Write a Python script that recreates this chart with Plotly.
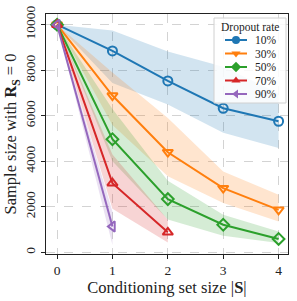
import plotly.graph_objects as go

cond_sizes = [0, 1, 2, 3, 4]
dropout_labels = ["10%", "30%", "50%", "70%", "90%"]

mean_10 = [10000, 8850, 7530, 6330, 5760]
upper_10 = [10000, 9740, 8820, 8150, 6990]
lower_10 = [10000, 7440, 6500, 5260, 4580]

mean_30 = [10000, 6890, 4400, 2820, 1870]
upper_30 = [10000, 7900, 5900, 3550, 2530]
lower_30 = [10000, 5600, 3350, 2170, 1360]

mean_50 = [10000, 4970, 2340, 1215, 590]
upper_50 = [10000, 6300, 3150, 1650, 920]
lower_50 = [10000, 4000, 1450, 730, 410]

mean_70 = [10000, 3040, 880]
upper_70 = [10000, 4300, 1430]
lower_70 = [10000, 1920, 440]

mean_90 = [10000, 1140]
upper_90 = [10000, 1800]
lower_90 = [10000, 320]

y_ticks = [0, 2000, 4000, 6000, 8000, 10000]
y_tick_labels = ["0", "2000", "4000", "6000", "8000", "10000"]

colors = ["#1f77b4", "#ff7f0e", "#2ca02c", "#d62728", "#9467bd"]
fills = ["rgba(31,119,180,0.2)", "rgba(255,127,14,0.2)", "rgba(44,160,44,0.2)",
         "rgba(214,39,40,0.2)", "rgba(148,103,189,0.2)"]
symbols = ["circle", "triangle-down", "diamond", "triangle-up", "triangle-left"]
means = [mean_10, mean_30, mean_50, mean_70, mean_90]
uppers = [upper_10, upper_30, upper_50, upper_70, upper_90]
lowers = [lower_10, lower_30, lower_50, lower_70, lower_90]

FONT = "Liberation Serif, Times New Roman, serif"
TXT = "#222"
fig = go.Figure()

for m, up, lo, fcol in zip(means, uppers, lowers, fills):
    xs = cond_sizes[:len(m)]
    fig.add_trace(go.Scatter(
        x=xs + xs[::-1], y=up + lo[::-1], fill="toself", fillcolor=fcol,
        line=dict(width=0), mode="lines", hoverinfo="skip", showlegend=False))

for m, col, sym in zip(means, colors, symbols):
    xs = cond_sizes[:len(m)]
    fig.add_trace(go.Scatter(
        x=xs, y=m, mode="lines+markers", showlegend=False,
        line=dict(color=col, width=2),
        marker=dict(symbol=sym + "-open", size=9, color=col, line=dict(width=2, color=col))))

# ---- custom legend (pixel-space overlay axes) ----
L_LEFT, L_RIGHT, L_TOP, L_BOTTOM = 46, 288, 14, 254
bx0, bx1, by0, by1 = 214, 286, 18, 103
entry_y = [40, 53.5, 67, 80.5, 94]
fig.add_trace(go.Scatter(x=[bx0, bx1, bx1, bx0, bx0], y=[by0, by0, by1, by1, by0],
                         xaxis="x2", yaxis="y2", mode="lines", fill="toself",
                         fillcolor="rgba(255,255,255,0.85)",
                         line=dict(color="#d0d0d0", width=1),
                         showlegend=False, hoverinfo="skip"))
fig.add_annotation(xref="x2", yref="y2", x=(bx0 + bx1) / 2, y=27,
                   text="Dropout rate", showarrow=False,
                   font=dict(family=FONT, size=11.5, color=TXT))
for ey, col, sym, lab in zip(entry_y, colors, symbols, dropout_labels):
    fig.add_trace(go.Scatter(x=[225, 247], y=[ey, ey], xaxis="x2", yaxis="y2",
                             mode="lines", line=dict(color=col, width=2),
                             showlegend=False, hoverinfo="skip"))
    fig.add_trace(go.Scatter(x=[236], y=[ey], xaxis="x2", yaxis="y2",
                             mode="markers", marker=dict(symbol=sym, size=8, color=col),
                             showlegend=False, hoverinfo="skip"))
    fig.add_annotation(xref="x2", yref="y2", x=253, y=ey, text=lab, showarrow=False,
                       xanchor="left", font=dict(family=FONT, size=11.5, color=TXT))

axis_common = dict(
    showline=True, linecolor=TXT, linewidth=1.3, mirror=True,
    ticks="outside", ticklen=4, tickcolor=TXT,
    showgrid=True, gridcolor="#d3d3d3", griddash="dash", gridwidth=1,
    zeroline=False, tickfont=dict(family=FONT, size=13.5, color=TXT),
    automargin=False,
)

fig.update_xaxes(range=[-0.2, 4.17], tickvals=cond_sizes,
                 title=dict(text="Conditioning set size |<b>S</b>|",
                            font=dict(family=FONT, size=16.5, color=TXT), standoff=0),
                 **axis_common)
fig.update_yaxes(range=[-70, 10470], tickvals=y_ticks, ticktext=y_tick_labels, tickangle=-90,
                 title=dict(text="Sample size with <b>R</b><sub><b>S</b></sub> = 0",
                            font=dict(family=FONT, size=16.5, color=TXT), standoff=2),
                 **axis_common)

fig.update_layout(
    width=297, height=301,
    margin=dict(l=46, r=9, t=14, b=47),
    plot_bgcolor="white", paper_bgcolor="white",
    font=dict(family=FONT, color=TXT),
    showlegend=False,
    xaxis2=dict(overlaying="x", range=[L_LEFT, L_RIGHT], visible=False, fixedrange=True),
    yaxis2=dict(overlaying="y", range=[L_BOTTOM, L_TOP], visible=False, fixedrange=True),
)

fig.write_html("out.html", post_script="document.body.style.margin='0';",
               config={"displayModeBar": False})
